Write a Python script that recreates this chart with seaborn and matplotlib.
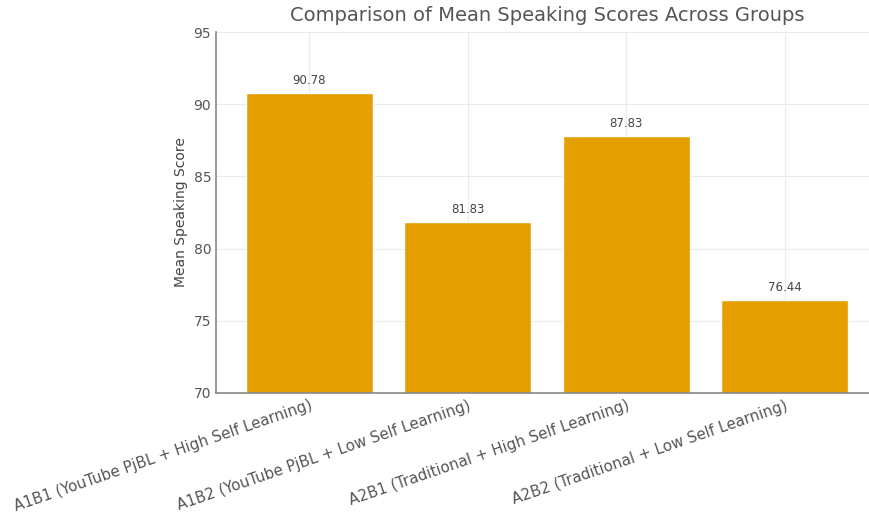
import matplotlib
matplotlib.use("Agg")
import matplotlib.pyplot as plt
import pandas as pd
import seaborn as sns

groups = ['A1B1 (YouTube PjBL + High Self Learning)',
          'A1B2 (YouTube PjBL + Low Self Learning)',
          'A2B1 (Traditional + High Self Learning)',
          'A2B2 (Traditional + Low Self Learning)']
mean_scores = [90.78, 81.83, 87.83, 76.44]

sns.set_style("whitegrid")
plt.rcParams['font.family'] = ['DejaVu Sans']
plt.rcParams['text.color'] = '#444444'
plt.rcParams['axes.labelcolor'] = '#444444'
plt.rcParams['xtick.color'] = '#555555'
plt.rcParams['ytick.color'] = '#555555'

df = pd.DataFrame({'Group': groups, 'Score': mean_scores})

fig = plt.figure(figsize=(8.69, 5.17), dpi=100)
ax = fig.add_axes([0.2486, 0.240, 0.7618, 0.698])
sns.barplot(data=df, x='Group', y='Score', color='#E69F00', saturation=1,
            width=0.8, ax=ax, zorder=2)
ax.set_ylim(70, 95)
ax.set_xlim(-0.59, 3.59)
ax.set_yticks([70, 75, 80, 85, 90, 95])
ax.grid(True, color='#ebebeb', linewidth=0.8, zorder=0)
ax.set_axisbelow(True)

for i, v in enumerate(mean_scores):
    ax.text(i, v + 0.4, f'{v:.2f}', ha='center', va='bottom', fontsize=8.5,
            color='#444444')

ax.set_title('Comparison of Mean Speaking Scores Across Groups', fontsize=14,
             color='#555555', pad=8)
ax.set_xlabel('')
ax.set_ylabel('Mean Speaking Score', fontsize=10)
ax.tick_params(axis='both', direction='in', length=4, labelsize=10)
ax.tick_params(axis='x', labelsize=10.8)
plt.setp(ax.get_xticklabels(), rotation=19, ha='right', rotation_mode='anchor')

for side in ['top', 'right']:
    ax.spines[side].set_visible(False)
for side in ['left', 'bottom']:
    ax.spines[side].set_visible(True)
    ax.spines[side].set_color('#888888')
    ax.spines[side].set_linewidth(1.2)

fig.savefig('out.png', dpi=100)
